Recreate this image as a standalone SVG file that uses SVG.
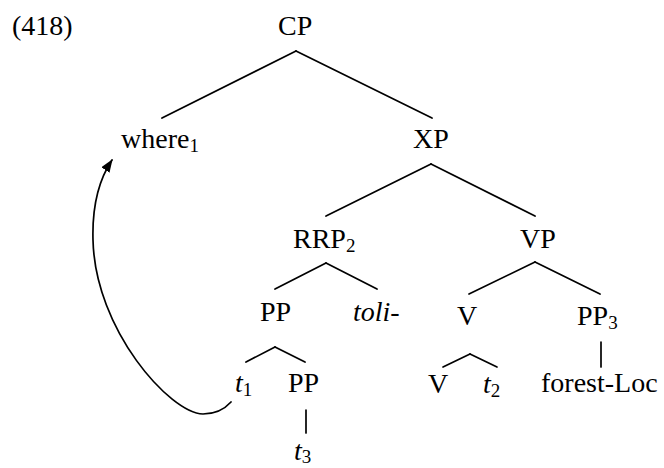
<svg xmlns="http://www.w3.org/2000/svg" width="664" height="468" viewBox="0 0 664 468">
<style>
  text { font-family: "Liberation Serif", "Times New Roman", serif; font-size: 28px; fill: #000; }
  .it { font-style: italic; }
  .sub { font-size: 19px; font-style: normal; }
  .edge { stroke: #000; stroke-width: 1.7; fill: none; stroke-linecap: round; }
</style>
<defs>
  <marker id="arrow" markerWidth="13" markerHeight="10" refX="12" refY="5" orient="auto" markerUnits="userSpaceOnUse">
    <path d="M0,0 L13,5 L0,10 Z" fill="#000"/>
  </marker>
</defs>
<rect width="664" height="468" fill="#fff"/>
<text id="label" x="12" y="35">(418)</text>
<g id="connectors">
  <path class="edge" d="M296,51 L162,118"/>
  <path class="edge" d="M296,51 L432,118"/>
  <path class="edge" d="M431,164 L326,216"/>
  <path class="edge" d="M431,164 L535,216"/>
  <path class="edge" d="M326,263 L275,289"/>
  <path class="edge" d="M326,263 L377,289"/>
  <path class="edge" d="M535,262 L469,294"/>
  <path class="edge" d="M535,262 L600,294"/>
  <path class="edge" d="M601,342 L601,367"/>
  <path class="edge" d="M275,347 L246,362"/>
  <path class="edge" d="M275,347 L305,362"/>
  <path class="edge" d="M470,354 L443,367"/>
  <path class="edge" d="M470,354 L497,367"/>
  <path class="edge" d="M306,410 L306,433"/>
  <path class="edge" d="M231,402 C222,412 212,414 203,414 C170,413 95,330 93,240 C92,205 100,178 112,160" marker-end="url(#arrow)"/>
</g>
<g id="n-CP"><text x="278" y="35">CP</text></g>
<g id="n-where"><text x="121" y="148">where<tspan class="sub" dy="4">1</tspan></text></g>
<g id="n-XP"><text x="413" y="148">XP</text></g>
<g id="n-RRP"><text x="293" y="248">RRP<tspan class="sub" dy="4">2</tspan></text></g>
<g id="n-VP"><text x="520" y="248">VP</text></g>
<g id="n-PP1"><text x="260" y="321">PP</text></g>
<g id="n-toli"><text class="it" x="353" y="321">toli-</text></g>
<g id="n-V1"><text x="457" y="325">V</text></g>
<g id="n-PP3"><text x="577" y="325">PP<tspan class="sub" dy="4">3</tspan></text></g>
<g id="n-t1"><text class="it" x="235" y="392">t<tspan class="sub" dy="4">1</tspan></text></g>
<g id="n-PP2"><text x="288" y="392">PP</text></g>
<g id="n-t3"><text class="it" x="294" y="460">t<tspan class="sub" dy="3">3</tspan></text></g>
<g id="n-V2"><text x="428" y="393">V</text></g>
<g id="n-t2"><text class="it" x="483" y="393">t<tspan class="sub" dy="4">2</tspan></text></g>
<g id="n-forest"><text x="541" y="392">forest-Loc</text></g>
</svg>
